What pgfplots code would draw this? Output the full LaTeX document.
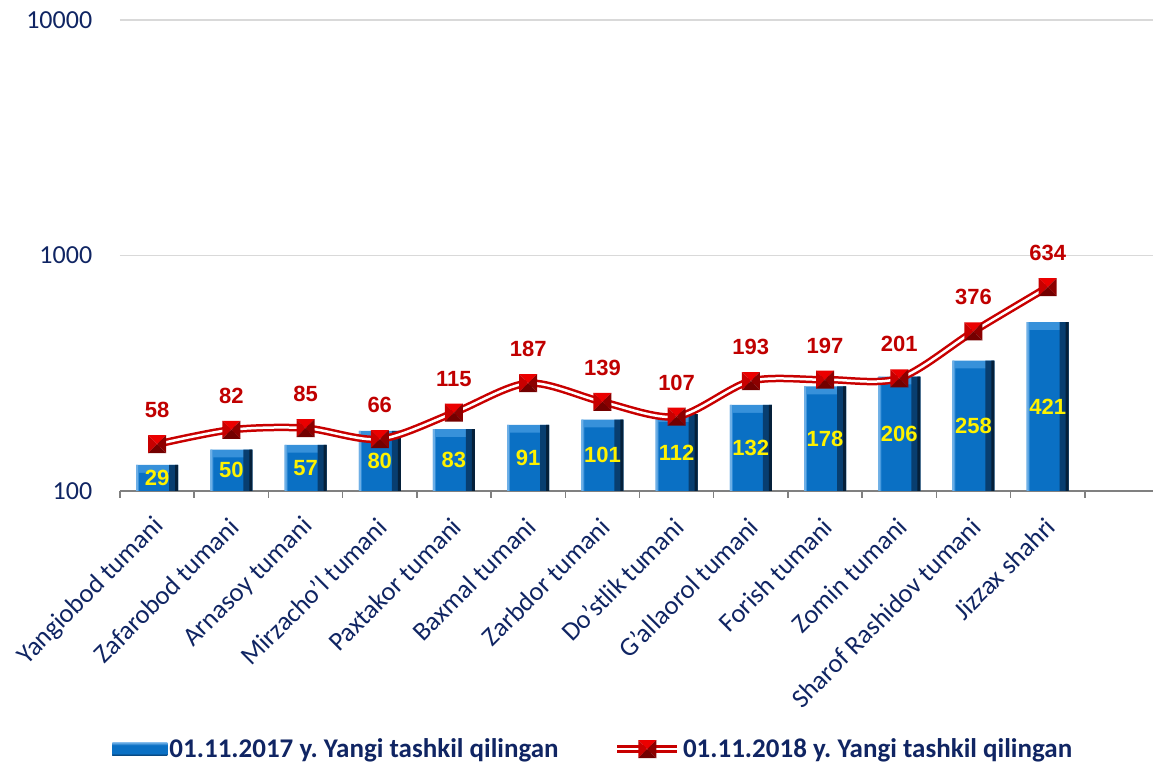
\documentclass[border=0pt]{standalone}
\usepackage{pgfplots}
\pgfplotsset{compat=1.18}
\usepackage{pgfplotstable}
\usepackage{fontspec}
\setmainfont{Carlito}
\newfontfamily\arialf{Liberation Sans}
\frenchspacing
\definecolor{navy}{RGB}{16,37,99}
\definecolor{lred}{RGB}{200,0,0}
\definecolor{lblred}{RGB}{192,0,0}
\definecolor{bL}{RGB}{110,175,230}
\definecolor{bT}{RGB}{55,145,218}
\definecolor{bM}{RGB}{10,112,196}
\definecolor{bD}{RGB}{8,62,112}
\definecolor{bK}{RGB}{5,32,58}
\definecolor{mT}{RGB}{235,0,0}
\definecolor{mL}{RGB}{200,0,0}
\definecolor{mR}{RGB}{140,0,0}
\definecolor{mB}{RGB}{115,0,0}
\pgfdeclareverticalshading{barv}{100bp}{color(0bp)=(bD); color(25bp)=(bD); color(35bp)=(bM); color(65bp)=(bM); color(75bp)=(bL); color(100bp)=(bL)}
\pgfdeclareplotmark{pyr}{%
\pgfsetfillcolor{mT}%
\pgfpathmoveto{\pgfqpoint{-9pt}{9pt}}\pgfpathlineto{\pgfqpoint{9pt}{9pt}}\pgfpathlineto{\pgfpointorigin}\pgfpathclose\pgfusepath{fill}%
\pgfsetfillcolor{mL}%
\pgfpathmoveto{\pgfqpoint{-9pt}{9pt}}\pgfpathlineto{\pgfqpoint{-9pt}{-9pt}}\pgfpathlineto{\pgfpointorigin}\pgfpathclose\pgfusepath{fill}%
\pgfsetfillcolor{mR}%
\pgfpathmoveto{\pgfqpoint{9pt}{9pt}}\pgfpathlineto{\pgfqpoint{9pt}{-9pt}}\pgfpathlineto{\pgfpointorigin}\pgfpathclose\pgfusepath{fill}%
\pgfsetfillcolor{mB}%
\pgfpathmoveto{\pgfqpoint{-9pt}{-9pt}}\pgfpathlineto{\pgfqpoint{9pt}{-9pt}}\pgfpathlineto{\pgfpointorigin}\pgfpathclose\pgfusepath{fill}%
}
\pgfplotstableread{
x bv bl lv ll
0 129 29 158 58
1 150 50 182 82
2 157 57 185 85
3 180 80 166 66
4 183 83 215 115
5 191 91 287 187
6 201 101 239 139
7 212 112 207 107
8 232 132 293 193
9 278 178 297 197
10 306 206 301 201
11 358 258 476 376
12 521 421 734 634
}\data
\begin{document}
\begin{tikzpicture}
\path[use as bounding box, clip] (0,0) rectangle (1153pt,769pt);
\begin{axis}[
  at={(120pt,278pt)}, anchor=south west,
  scale only axis, width=1039pt, height=471pt,
  ymode=log, ymin=100, ymax=10000, log origin y=infty,
  xmin=-0.5, xmax=13.5,
  ytick={100,1000,10000}, yticklabels={100,1000,10000},
  yminorticks=false,
  ymajorgrids, major grid style={draw=black!15, line width=1.5pt},
  axis x line*=bottom, axis y line*=left,
  y axis line style={draw=none},
  x axis line style={draw=black!50, line width=2pt, -},
  ytick style={draw=none},
  xtick={0,...,12},
  xticklabels={Yangiobod tumani,Zafarobod tumani,Arnasoy tumani,Mirzacho’l tumani,Paxtakor tumani,Baxmal tumani,Zarbdor tumani,Do’stlik tumani,G’allaorol tumani,Forish tumani,Zomin tumani,Sharof Rashidov tumani,Jizzax shahri},
  major x tick style={draw=none},
  minor xtick={-0.5,0.5,...,13.5},
  minor x tick style={draw=black!50, line width=1.5pt},
  minor tick length=7pt, tick align=outside,
  tick label style={font=\fontsize{26}{30}\selectfont, text=navy},
  xticklabel style={font=\fontsize{26.5}{30}\selectfont},
  yticklabel style={anchor=east, xshift=-20pt},
  xticklabel style={xshift=3pt, yshift=-27pt, rotate=45, anchor=east, inner sep=0pt},
  legend columns=2,
  legend style={at={(0.4555,-0.548)}, anchor=center, draw=none, fill=none,
    font=\bfseries\fontsize{27}{30}\selectfont, text=navy,
    /tikz/every even column/.append style={column sep=53pt},
    nodes={inner xsep=2pt}},
  clip=false,
]
\addplot[ybar, bar width=42pt, bar shift=0pt, draw=none, fill=bT,
  legend image code/.code={\path[shade, shading=barv] (0pt,-6.5pt) rectangle (55pt,6.5pt);}]
  table[x=x,y=bv]{\data};
\addlegendentry{01.11.2017 y. Yangi tashkil qilingan}
\addplot[ybar, forget plot, bar width=34pt, bar shift=-1pt, draw=none, fill=bM] table[x=x,y expr={\thisrow{bv}/1.08}]{\data};
\addplot[ybar, forget plot, bar width=2pt, bar shift=-20pt, draw=none, fill=bL] table[x=x,y=bv]{\data};
\addplot[ybar, forget plot, bar width=9pt, bar shift=16.5pt, draw=none, fill=bD] table[x=x,y=bv]{\data};
\addplot[ybar, forget plot, bar width=3pt, bar shift=19.5pt, draw=none, fill=bK] table[x=x,y=bv]{\data};
\addplot[lred, line width=2.5pt, double=white, double distance=2.5pt, smooth, tension=0.5, mark=pyr,
  nodes near coords, point meta=explicit symbolic,
  every node near coord/.append style={text=lblred, font=\arialf\bfseries\fontsize{22}{26}\selectfont, anchor=south, inner sep=0pt, yshift=25pt},
  legend image code/.code={\draw[lred, line width=2.5pt, double=white, double distance=2.5pt] (0pt,0pt) -- (60pt,0pt);
    \begin{scope}[shift={(30pt,0pt)}]\pgfuseplotmark{pyr}\end{scope}}]
  table[x=x,y=lv,meta=ll]{\data};
\addlegendentry{01.11.2018 y. Yangi tashkil qilingan}
\addplot[draw=none, mark=none, forget plot, nodes near coords, point meta=explicit symbolic,
  every node near coord/.append style={text=yellow, font=\arialf\bfseries\fontsize{22}{26}\selectfont, anchor=center, inner sep=0pt}]
  table[x=x, y expr={sqrt(100*\thisrow{bv})}, meta=bl]{\data};
\end{axis}
\end{tikzpicture}
\end{document}
